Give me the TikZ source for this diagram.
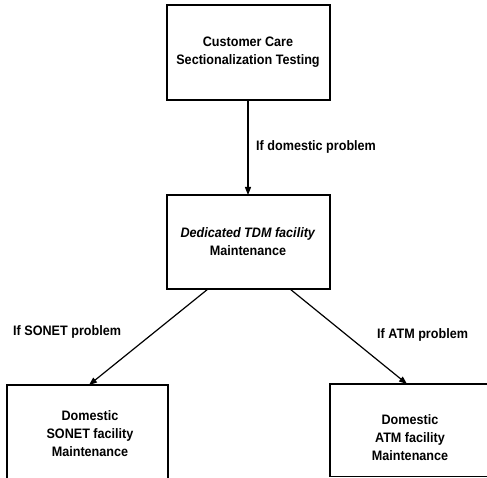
\documentclass[tikz,border=0pt]{standalone}
\usepackage{fontspec}
\setmainfont{Liberation Sans}[FakeStretch=0.92]
\usetikzlibrary{arrows.meta}
\begin{document}
\begin{tikzpicture}[x=1pt,y=-1pt,
  box/.style={draw=black,line width=1.3pt},
  txt/.style={font=\fontsize{13.7}{18}\selectfont\bfseries,align=center,inner sep=0pt},
  lbl/.style={font=\fontsize{13.7}{18}\selectfont\bfseries,inner sep=0pt,anchor=west},
  link/.style={line width=1.2pt,-{Triangle[length=8pt,width=6pt]}}]
\useasboundingbox (0,0) rectangle (487,478);
\fill[white] (0,0) rectangle (487,478);
\begin{scope}
\clip (0,0) rectangle (487,478);
% boxes (the bottom row runs off the page)
\draw[box] (167,5) rectangle (330,100);
\draw[box] (167,195) rectangle (330,289);
\draw[box] (7,385) rectangle (168,500);
\draw[box] (330,384) rectangle (500,476.5);
\end{scope}
% anchor points on the box edges
\coordinate (topB) at (248,100);
\coordinate (midT) at (248,195);
\coordinate (midL) at (208,289);
\coordinate (midR) at (290,289);
\coordinate (leftT) at (89,385);
\coordinate (rightT) at (407,384);
% box texts
\node[txt] (care) at (248,52) {Customer Care\\Sectionalization Testing};
\node[txt] (tdm) at (248,242) {\textit{Dedicated TDM facility}\\Maintenance};
\node[txt] (sonet) at (90,434) {Domestic\\SONET facility\\Maintenance};
\node[txt] (atm) at (410,438) {Domestic\\ATM facility\\Maintenance};
% connectors
\draw[link] (topB) -- (midT);
\draw[link] (midL) -- (leftT);
\draw[link] (midR) -- (rightT);
% connector labels
\node[lbl] (l1) at (256,147) {If domestic problem};
\node[lbl] (l2) at (13,332) {If SONET problem};
\node[lbl] (l3) at (377,335) {If ATM problem};
\end{tikzpicture}
\end{document}
